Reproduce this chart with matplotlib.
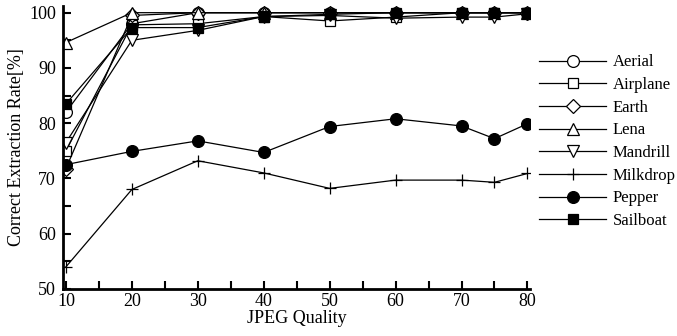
import matplotlib
matplotlib.use("Agg")
import matplotlib.pyplot as plt
from matplotlib.ticker import MultipleLocator

plt.rcParams['font.family'] = ['Liberation Serif', 'DejaVu Serif']

quality = [10, 20, 30, 40, 50, 60, 70, 75, 80]

aerial = [82.0, 98.0, 100.0, 100.0, 100.0, 100.0, 100.0, 100.0, 100.0]
airplane = [75.0, 97.8, 98.0, 99.3, 98.5, 99.2, 100.0, 100.0, 100.0]
earth = [71.8, 99.5, 100.0, 100.0, 100.0, 100.0, 100.0, 100.0, 100.0]
lena = [94.6, 100.0, 100.0, 100.0, 100.0, 100.0, 100.0, 100.0, 100.0]
mandrill = [76.5, 95.0, 96.8, 99.3, 99.5, 99.0, 99.2, 99.2, 99.8]
milkdrop = [54.0, 68.0, 73.2, 71.0, 68.2, 69.7, 69.7, 69.3, 70.9]
pepper = [72.5, 74.9, 76.8, 74.7, 79.4, 80.8, 79.5, 77.2, 79.9]
sailboat = [83.5, 97.3, 97.3, 99.3, 99.7, 100.0, 100.0, 100.0, 100.0]

series = [
    ("Aerial", aerial, "o", "white"),
    ("Airplane", airplane, "s", "white"),
    ("Earth", earth, "D", "white"),
    ("Lena", lena, "^", "white"),
    ("Mandrill", mandrill, "v", "white"),
    ("Milkdrop", milkdrop, "+", "black"),
    ("Pepper", pepper, "o", "black"),
    ("Sailboat", sailboat, "s", "black"),
]

fig = plt.figure(figsize=(6.77, 3.36), dpi=100)
ax = fig.add_axes([0.093, 0.14, 0.69, 0.842])

for name, vals, mk, fc in series:
    ms = 8.5
    if mk == "D":
        ms = 7
    elif mk == "s":
        ms = 7.5
    elif mk == "+":
        ms = 9
    ax.plot(quality, vals, color="black", lw=0.9, marker=mk, ms=ms,
            mfc=fc, mec="black", mew=0.9, label=name)

ax.set_xlim(9.55, 80.4)
ax.set_ylim(50, 101.2)
ax.xaxis.set_major_locator(MultipleLocator(10))
ax.xaxis.set_minor_locator(MultipleLocator(5))
ax.yaxis.set_major_locator(MultipleLocator(10))
ax.yaxis.set_minor_locator(MultipleLocator(5))
ax.tick_params(which="both", direction="in", length=6, width=1.5,
               labelsize=13)
ax.tick_params(axis="x", pad=3)
ax.tick_params(axis="y", pad=5)

for s in ["top", "right"]:
    ax.spines[s].set_visible(False)
for s in ["left", "bottom"]:
    ax.spines[s].set_linewidth(2)

ax.set_xlabel("JPEG Quality", fontsize=13, labelpad=0)
ax.set_ylabel("Correct Extraction Rate[%]", fontsize=13, labelpad=3)

ax.legend(loc="upper left", bbox_to_anchor=(0.995, 0.87), frameon=False,
          fontsize=12, handlelength=4.0, handletextpad=0.4,
          labelspacing=0.4, borderaxespad=0.3)

fig.savefig("out.png", dpi=100)
